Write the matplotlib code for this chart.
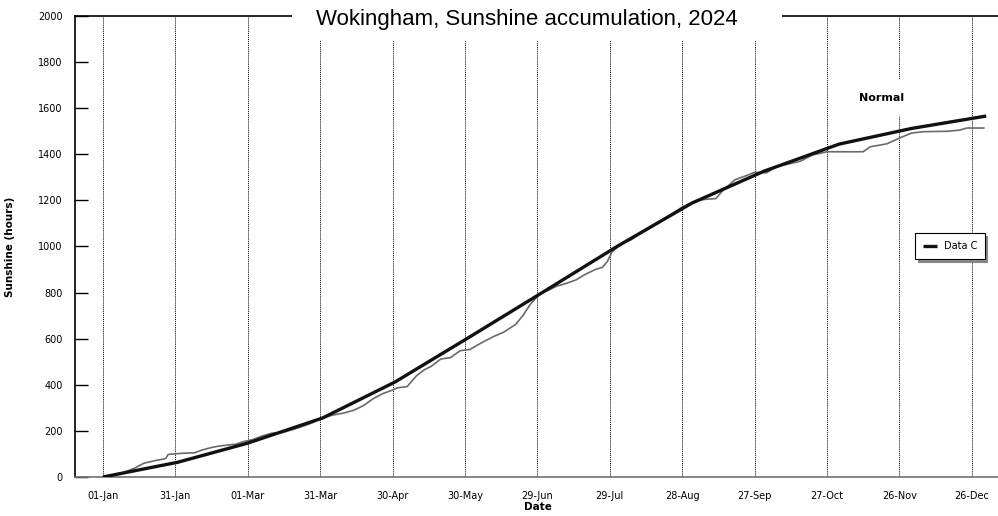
import matplotlib
matplotlib.use("Agg")
import matplotlib.pyplot as plt
from matplotlib.patches import Rectangle

# day of year (0 = 01-Jan) and cumulative sunshine hours
normal_days = [0, 31, 60, 91, 121, 152, 182, 213, 244, 274, 305, 335, 366]
normal_hours = [0, 64, 147, 256, 412, 608, 800, 1000, 1188, 1327, 1444, 1512, 1566]

actual_days = [0, 8, 13, 17, 22, 26, 27, 33, 38, 41, 45, 48, 52, 55, 58, 62, 66, 70,
               74, 80, 86, 90, 95, 100, 104, 108, 112, 116, 120, 122, 126, 130, 133,
               136, 140, 144, 148, 152, 157, 162, 166, 171, 174, 177, 181, 185, 188,
               192, 196, 200, 204, 207, 209, 211, 215, 219, 223, 226, 232, 240, 246,
               250, 254, 257, 262, 266, 270, 275, 279, 285, 289, 294, 300, 315, 318,
               322, 325, 330, 335, 340, 350, 355, 358, 365]
actual_hours = [0, 18, 38, 60, 72, 80, 98, 103, 105, 117, 128, 134, 139, 142, 153, 162,
                178, 190, 192, 210, 232, 252, 268, 278, 290, 310, 340, 362, 377, 387,
                392, 440, 464, 480, 512, 518, 548, 553, 583, 610, 628, 662, 700, 748,
                795, 812, 828, 840, 855, 880, 900, 910, 935, 978, 1012, 1030, 1058,
                1075, 1115, 1171, 1200, 1205, 1208, 1245, 1290, 1305, 1322, 1320, 1346,
                1360, 1370, 1397, 1411, 1411, 1433, 1440, 1446, 1470, 1492, 1498, 1500,
                1505, 1514, 1514]

tick_days = [0, 30, 60, 90, 120, 150, 180, 210, 240, 270, 300, 330, 360]
tick_labels = ["01-Jan", "31-Jan", "01-Mar", "31-Mar", "30-Apr", "30-May", "29-Jun",
               "29-Jul", "28-Aug", "27-Sep", "27-Oct", "26-Nov", "26-Dec"]

W, H = 998, 516
fig = plt.figure(figsize=(W / 100, H / 100), dpi=100)
ax = fig.add_axes([75 / W, 39 / H, 923 / W, 461 / H])

for d in tick_days:
    ax.axvline(d, color="black", linestyle=(0, (1, 1)), linewidth=0.7, zorder=1)

ax.plot(actual_days, actual_hours, color="#6a6a6a", linewidth=1.2, zorder=3)
ax.plot(normal_days, normal_hours, color="#111111", linewidth=2.4, zorder=4,
        label="Data C", solid_capstyle="butt")

ax.set_xlim(-11.6, 370.9)
ax.set_ylim(0, 2000)
ax.set_xticks(tick_days)
ax.set_xticklabels(tick_labels)
ax.set_yticks(range(0, 2001, 200))
ax.tick_params(axis="y", direction="in", length=9, width=1, pad=9, labelsize=7)
ax.tick_params(axis="x", length=0, pad=10, labelsize=7)

ax.spines["right"].set_visible(False)
ax.spines["left"].set_linewidth(1.2)
ax.spines["top"].set_linewidth(1.2)
ax.spines["bottom"].set_color("#707070")
ax.spines["bottom"].set_linewidth(1.2)

ax.set_ylabel("Sunshine (hours)", fontsize=7.5, fontweight="bold")
ax.yaxis.set_label_coords(-0.065, 0.5)
ax.set_xlabel("Date", fontsize=7.5, fontweight="bold")
ax.xaxis.set_label_coords(0.5016, -0.055)

ax.text(322.8, 1644, "Normal", fontsize=8, fontweight="bold", ha="center", va="center",
        zorder=5, bbox=dict(boxstyle="square,pad=1.2", facecolor="white", edgecolor="none"))

leg = ax.legend(loc="center", bbox_to_anchor=(950 / W, (H - 246) / H),
                bbox_transform=fig.transFigure, fontsize=7, frameon=True,
                fancybox=False, shadow={"color": "#888888", "alpha": 1},
                handlelength=1.4, borderpad=0.8, handletextpad=0.7)
leg.get_frame().set_edgecolor("black")
leg.get_frame().set_linewidth(0.8)

# white box behind the title, covering top border and gridlines
fig.add_artist(Rectangle((292 / W, (H - 40) / H), (782 - 292) / W, 40 / H,
                         transform=fig.transFigure, facecolor="white",
                         edgecolor="none", zorder=5))
fig.text(527 / W, (H - 20) / H, "Wokingham, Sunshine accumulation, 2024",
         fontsize=16, family="Liberation Sans", ha="center", va="center", zorder=6)

fig.savefig("out.png", dpi=100)
